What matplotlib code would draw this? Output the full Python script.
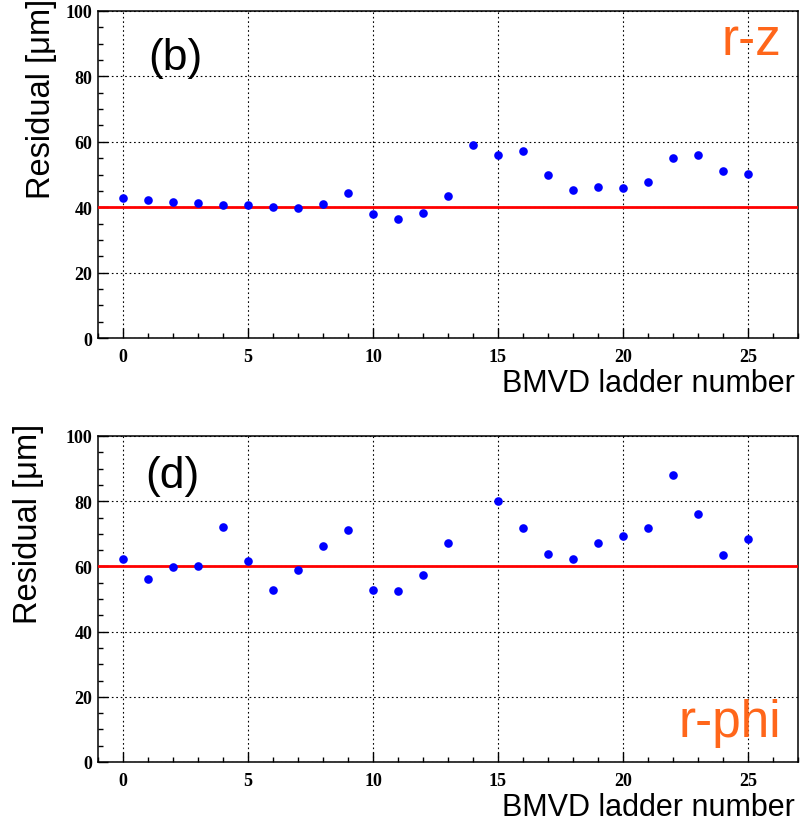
import matplotlib
matplotlib.use("Agg")
import matplotlib.pyplot as plt
from matplotlib.ticker import MultipleLocator
import numpy as np

# ---- data ----
ladder_rz = list(range(26))
residual_rz = [42.9, 42.2, 41.6, 41.4, 40.6, 40.8, 40.1, 39.8, 40.9, 44.2,
               37.9, 36.3, 38.2, 43.3, 59.0, 56.1, 57.1, 49.8, 45.3, 46.2,
               45.8, 47.7, 55.0, 56.1, 51.2, 50.3]
ref_rz = 40

ladder_rphi = [0, 1, 2, 3, 4, 5, 6, 7, 8, 9, 10, 11, 12, 13,
               15, 16, 17, 18, 19, 20, 21, 22, 23, 24, 25]
residual_rphi = [62.2, 56.2, 59.7, 60.0, 72.1, 61.7, 52.7, 59.0, 66.3, 71.2,
                 52.7, 52.6, 57.4, 67.1, 80.0, 71.9, 63.8, 62.4, 67.2, 69.4,
                 71.9, 88.1, 76.2, 63.4, 68.3]
ref_rphi = 60

xlabel = "BMVD ladder number"
ylabel = "Residual [\u03bcm]"
panel_tags = ["(b)", "(d)"]
view_tags = ["r-z", "r-phi"]

W, H = 800, 828
fig = plt.figure(figsize=(W / 100, H / 100), dpi=100)

orange = "#ff661a"
tickfont = dict(family="Liberation Serif", weight="bold", size=13)


def fx(px):
    return px / W


def fy(py):
    return 1 - py / H


def make_panel(top, bottom, xs, ys, ref):
    ax = fig.add_axes([fx(98), fy(bottom), fx(700), (bottom - top) / H])
    ax.set_xlim(-1, 27)
    ax.set_ylim(0, 100)
    ax.xaxis.set_major_locator(MultipleLocator(5))
    ax.xaxis.set_minor_locator(MultipleLocator(1))
    ax.yaxis.set_major_locator(MultipleLocator(20))
    ax.yaxis.set_minor_locator(MultipleLocator(5))
    ax.tick_params(which="both", direction="in", top=False, right=False,
                   color="black", width=1.0)
    ax.tick_params(which="major", length=7.5)
    ax.tick_params(which="minor", length=3.8)
    ax.tick_params(axis="x", which="major", pad=7)
    ax.tick_params(axis="y", which="major", pad=4)
    for lab in ax.get_xticklabels() + ax.get_yticklabels():
        lab.set_fontfamily(tickfont["family"])
        lab.set_fontweight(tickfont["weight"])
        lab.set_fontsize(tickfont["size"])
    ax.grid(True, which="major", color="black", linestyle=(0, (1.5, 2.5)),
            linewidth=0.8)
    for s in ax.spines.values():
        s.set_linewidth(1.1)
    ax.axhline(ref, color="#ff0000", linewidth=2.0, zorder=3)
    ax.plot(xs, ys, "o", color="#0000ff", markersize=6.2,
            markeredgewidth=0, zorder=4)
    return ax


ax1 = make_panel(12, 339, ladder_rz, residual_rz, ref_rz)
ax2 = make_panel(437, 763, ladder_rphi, residual_rphi, ref_rphi)

# axis labels
for top, bottom, ylx in [(12, 339, 42), (437, 763, 28)]:
    fig.text(fx(795), fy(bottom + 53), xlabel, ha="right", va="baseline",
             family="Liberation Sans", fontsize=22)
    fig.text(fx(ylx), fy(top - 13), ylabel, ha="center", va="top",
             rotation=90, family="Liberation Sans", fontsize=23.5)

# panel annotations
fig.text(fx(148), fy(70), panel_tags[0], ha="left", va="baseline",
         family="Liberation Sans", fontsize=32)
fig.text(fx(145), fy(488), panel_tags[1], ha="left", va="baseline",
         family="Liberation Sans", fontsize=32)
fig.text(fx(781), fy(55), view_tags[0], ha="right", va="baseline",
         family="Liberation Sans", fontsize=37, color=orange)
fig.text(fx(781), fy(737), view_tags[1], ha="right", va="baseline",
         family="Liberation Sans", fontsize=37, color=orange)

fig.savefig("out.png", dpi=100, facecolor="white")
